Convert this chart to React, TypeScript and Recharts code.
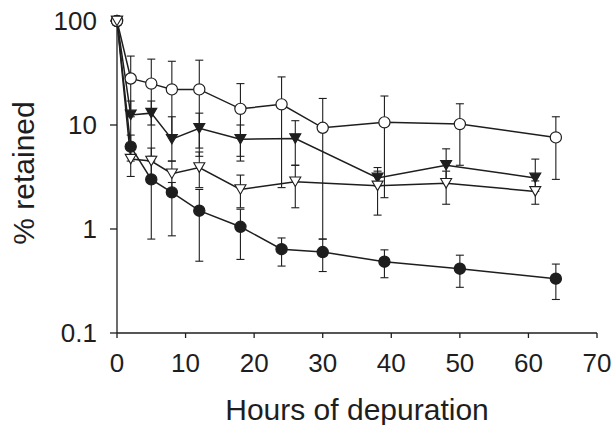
import React from 'react';
import { ComposedChart, Line, XAxis, YAxis, ErrorBar, Label } from 'recharts';

// hours sampled for each group
const circleHours = [0, 2, 5, 8, 12, 18, 24, 30, 39, 50, 64];
const triangleHours = [0, 2, 5, 8, 12, 18, 26, 38, 48, 61];

// open circles
const openCircle = [100, 28, 25, 22, 22, 14.3, 15.8, 9.4, 10.6, 10.2, 7.6];
const openCircleLow = [100, 12, 10, 8, 6, 5, 2.5, 0.8, 2.0, 4.1, 3.0];
const openCircleHigh = [100, 46, 43, 41, 42, 25, 29, 18, 19, 16, 12];

// filled circles
const filledCircle = [100, 6.2, 3.0, 2.25, 1.5, 1.05, 0.64, 0.6, 0.485, 0.415, 0.333];
const filledCircleLow = [100, 4.5, 0.8, 0.86, 0.49, 0.51, 0.44, 0.39, 0.34, 0.275, 0.21];
const filledCircleHigh = [100, 8, 4.5, 2.8, 2.4, 1.55, 0.82, 0.8, 0.63, 0.56, 0.46];

// filled triangles
const filledTri = [100, 12.5, 13, 7.3, 9.3, 7.3, 7.4, 3.1, 4.1, 3.1];
const filledTriLow = [100, 6, 5, 4.5, 5, 4.5, 4.1, 2.6, 3.0, 2.3];
const filledTriHigh = [100, 17, 17, 12, 13, 10, 11, 3.9, 5.9, 4.7];

// open triangles
const openTri = [100, 4.7, 4.5, 3.4, 3.9, 2.4, 2.85, 2.6, 2.75, 2.3];
const openTriLow = [100, 3.2, 3.2, 2.4, 2.5, 1.6, 1.6, 1.36, 1.73, 1.73];
const openTriHigh = [100, 6.5, 6, 4.5, 5.5, 3.3, 4.1, 3.6, 3.6, 2.9];

const xTicks = [0, 10, 20, 30, 40, 50, 60, 70];
const yTicks = [0.1, 1, 10, 100];

const build = (xs: number[], ys: number[], lo: number[], hi: number[]) =>
  xs.map((x, i) => ({ x, y: ys[i], err: [ys[i] - lo[i], hi[i] - ys[i]] }));

const openCircleData = build(circleHours, openCircle, openCircleLow, openCircleHigh);
const filledCircleData = build(circleHours, filledCircle, filledCircleLow, filledCircleHigh);
const filledTriData = build(triangleHours, filledTri, filledTriLow, filledTriHigh);
const openTriData = build(triangleHours, openTri, openTriLow, openTriHigh);

const INK = '#1e1e1e';
const FONT = '"Liberation Sans", Arial, sans-serif';

const circleDot = (fill: string) => (p: any) => (
  <circle key={`c-${p.index}`} cx={p.cx} cy={p.cy} r={5.6} fill={fill} stroke={INK} strokeWidth={1.2} />
);

const triDot = (fill: string) => (p: any) => {
  const { cx, cy } = p;
  const w = 5.5;
  const h = 9.5;
  const pts = `${cx - w},${cy - h / 2} ${cx + w},${cy - h / 2} ${cx},${cy + h / 2}`;
  return <polygon key={`t-${p.index}`} points={pts} fill={fill} stroke={INK} strokeWidth={1.1} strokeLinejoin="miter" />;
};

export default function App() {
  return (
    <div style={{ position: 'absolute', left: 0, top: 0, background: '#fff' }}>
      <ComposedChart width={613} height={425} margin={{ top: 21, right: 16, bottom: 0, left: 0 }}>
        <XAxis
          dataKey="x"
          type="number"
          domain={[0, 70]}
          ticks={xTicks}
          height={92}
          stroke={INK}
          strokeWidth={1.3}
          tickSize={5}
          tickMargin={16}
          tick={{ fill: INK, fontSize: 26, fontFamily: FONT }}
        >
          <Label
            content={() => (
              <text x={357} y={420} textAnchor="middle" fill={INK} fontSize={30} fontFamily={FONT}>
                Hours of depuration
              </text>
            )}
          />
        </XAxis>
        <XAxis xAxisId="top" orientation="top" type="number" domain={[0, 70]} height={0} tick={false} tickLine={false} stroke={INK} strokeWidth={1.3} />
        <YAxis
          scale="log"
          type="number"
          domain={[0.1, 100]}
          ticks={yTicks}
          width={117}
          stroke={INK}
          strokeWidth={1.3}
          tickSize={7}
          tickMargin={13}
          tickFormatter={(v: number) => String(v)}
          tick={{ fill: INK, fontSize: 26, fontFamily: FONT }}
        >
          <Label
            content={() => (
              <text x={24} y={173} dy={10} textAnchor="middle" fill={INK} fontSize={30} fontFamily={FONT} transform="rotate(-90 24 173)">
                % retained
              </text>
            )}
          />
        </YAxis>
        <YAxis yAxisId="right" orientation="right" width={0} tick={false} tickLine={false} stroke={INK} strokeWidth={1.3} />

        <Line data={filledCircleData} dataKey="y" stroke={INK} strokeWidth={1.5} dot={circleDot(INK)} isAnimationActive={false}>
          <ErrorBar dataKey="err" direction="y" width={4} stroke={INK} strokeWidth={1.1} />
        </Line>
        <Line data={filledTriData} dataKey="y" stroke={INK} strokeWidth={1.5} dot={triDot(INK)} isAnimationActive={false}>
          <ErrorBar dataKey="err" direction="y" width={4} stroke={INK} strokeWidth={1.1} />
        </Line>
        <Line data={openCircleData} dataKey="y" stroke={INK} strokeWidth={1.5} dot={circleDot('#fff')} isAnimationActive={false}>
          <ErrorBar dataKey="err" direction="y" width={4} stroke={INK} strokeWidth={1.1} />
        </Line>
        <Line data={openTriData} dataKey="y" stroke={INK} strokeWidth={1.5} dot={triDot('#fff')} isAnimationActive={false}>
          <ErrorBar dataKey="err" direction="y" width={4} stroke={INK} strokeWidth={1.1} />
        </Line>
      </ComposedChart>
    </div>
  );
}
